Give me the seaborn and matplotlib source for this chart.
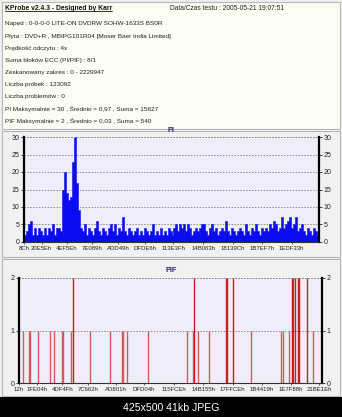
import numpy as np
import pandas as pd
import matplotlib
matplotlib.use("Agg")
import matplotlib.pyplot as plt
import seaborn as sns
from matplotlib.lines import Line2D
from matplotlib.patches import Rectangle

sns.set_theme(style="white")
plt.rcParams['font.family'] = ['Liberation Sans', 'DejaVu Sans']

# ---------------- data ----------------
scan_end = 2229947

info_title = "KProbe v2.4.3 - Designed by Karr"
info_date = "Data/Czas testu : 2005-05-21 19:07:51"
info_lines = [
    "Napęd : 0-0-0-0 LITE-ON DVDRW SOHW-1633S BS0R",
    "Płyta : DVD+R , MBIPG101R04 [Moser Baer India Limited]",
    "Prędkość odczytu : 4x",
    "Suma bloków ECC (PI/PIF) : 8/1",
    "Zeskanowany zakres : 0 - 2229947",
    "Liczba próbek : 123092",
    "Liczba problemów : 0",
    "PI Maksymalnie = 30 , Średnio = 0,97 , Suma = 15627",
    "PIF Maksymalnie = 2 , Średnio = 0,03 , Suma = 540",
]

pi_values = [
    2, 3, 5, 6, 2, 4, 2, 4, 3, 2, 4, 2, 4, 3, 5, 2, 4, 4, 3,
    15, 20, 14, 12, 13, 23, 30, 17, 9, 4,
    3, 5, 2, 4, 3, 2, 4, 6, 3, 2, 4, 3, 2, 4, 5, 3, 5, 2, 4, 3,
    7, 3, 2, 4, 3, 2, 3, 4, 2, 3, 2, 4, 3, 2, 3, 5, 2, 3, 2, 4,
    2, 3, 2, 4, 3, 2, 4, 5, 3, 5, 4, 5, 3, 5, 4, 2, 3, 4, 3, 4,
    5, 5, 3, 2, 4, 5, 3, 4, 2, 3, 4, 3, 6, 3, 2, 4, 3, 2, 3, 4,
    3, 2, 5, 3, 2, 4, 3, 5, 3, 2, 4, 3, 4, 3, 5, 4, 6, 5, 3, 4,
    7, 4, 5, 6, 7, 4, 5, 7, 3, 4, 5, 3, 2, 4, 3, 2, 4, 3, 2,
]
pi_yticks = [0, 5, 10, 15, 20, 25, 30]
pi_xtick_hex = ["8C", "20E5E", "4EF5E", "7E089", "ADD49", "DFDE6",
                "113E3F", "14B063", "18139C", "1B7EF7", "1EDF33"]

pif_lba = [27200, 73600, 78700, 137600, 228200, 257600, 314200, 326000,
           380500, 395000, 522500, 669700, 755600, 763000, 792600, 947000,
           1234000, 1278000, 1285700, 1319600, 1400600, 1523500, 1528500,
           1577300, 1705300, 1928200, 1943000, 1989300, 2007000, 2018800,
           2031300, 2055600, 2063000, 2121800, 2165900]
pif_values = [1, 1, 1, 1, 1, 1, 1, 1,
              1, 2, 1, 1, 1, 1, 1, 1,
              1, 1, 2, 1, 1, 2, 2,
              2, 1, 1, 1, 1, 2, 2,
              2, 2, 2, 2, 1]
pif_yticks = [0, 1, 2]
pif_xtick_hex = ["12", "1FE04", "4DF4F", "7C662", "AD801", "DFD04",
                 "115FCE", "14B155", "17FFCE", "1B4419", "1E7F88", "21BE1E"]

footer = "425x500 41kb JPEG"

# ---------------- layout helpers ----------------
W, H = 342, 417
fig = plt.figure(figsize=(W / 100, H / 100), dpi=100, facecolor='#efefef')


def px_rect(x0, y0, x1, y1):
    return [x0 / W, 1 - y1 / H, (x1 - x0) / W, (y1 - y0) / H]


def fx(x):
    return x / W


def fy(y):
    return 1 - y / H


def panel(rect, color):
    a = fig.add_axes(px_rect(*rect), zorder=-5)
    a.set_facecolor(color)
    a.set_xticks([])
    a.set_yticks([])
    for s in a.spines.values():
        s.set_color('#b8b8b8')
        s.set_linewidth(0.8)
    return a


# background panels
panel((2, 2, 340, 129), '#fcfcf4')
panel((2, 131, 340, 257), '#f1f1f1')
panel((2, 259, 340, 396), '#f1f1f1')

# ---------------- info box ----------------
fs_info = 4.6
t = fig.text(fx(5), fy(8), info_title, fontsize=4.9, weight='bold',
             va='center', ha='left', color='#111111')
fig.text(fx(170), fy(8), info_date, fontsize=4.75, va='center',
         ha='left', color='#222222')
for k, line in enumerate(info_lines):
    fig.text(fx(5), fy(24 + 12.1 * k), line, fontsize=fs_info, va='center',
             ha='left', color='#222222')
fig.canvas.draw()
bb = t.get_window_extent().transformed(fig.transFigure.inverted())
fig.add_artist(Line2D([bb.x0, bb.x1], [bb.y0 + 0.001, bb.y0 + 0.001],
                      transform=fig.transFigure, color='#111111', lw=0.6))

# ---------------- style helper ----------------
grid_kw = dict(color='#8c8c8c', linestyle=(0, (1.5, 1.5)), linewidth=0.7)


def style_axes(ax, yticks, xtick_hex):
    ax.set_facecolor('#eeeefa')
    ax.set_xlim(0, scan_end)
    ax.set_ylim(yticks[0], yticks[-1])
    ax.set_yticks(yticks)
    ax.set_yticklabels([str(v) for v in yticks])
    ax.set_xticks([int(h, 16) for h in xtick_hex])
    ax.set_xticklabels([h + "h" for h in xtick_hex])
    ax.tick_params(axis='y', left=True, right=True, labelleft=True,
                   labelright=True, length=2, width=0.6, pad=1.5,
                   labelsize=5.0, colors='#222222', direction='out')
    ax.tick_params(axis='x', bottom=True, length=1.5, width=0.5, pad=1.5,
                   labelsize=4.3, colors='#222222')
    ax.set_xlabel("")
    ax.set_ylabel("")
    ax.yaxis.grid(True, **grid_kw)
    ax.xaxis.grid(False)
    ax.set_axisbelow(True)
    ax.spines['top'].set_visible(False)
    for side in ('left', 'right'):
        ax.spines[side].set_color('#000000')
        ax.spines[side].set_linewidth(1.6)
    ax.spines['bottom'].set_color('#333333')
    ax.spines['bottom'].set_linewidth(0.8)
    ax.spines['bottom'].set_linestyle((0, (1, 1)))
    ax.axhline(yticks[-1], clip_on=False, **grid_kw)


# ---------------- PI ----------------
ax1 = fig.add_axes(px_rect(24, 137, 319, 242))
n_pi = len(pi_values)
bin_w = scan_end / n_pi
pi_df = pd.DataFrame({"lba": (np.arange(n_pi) + 0.5) * bin_w,
                      "pi": pi_values})
sns.histplot(data=pi_df, x="lba", weights="pi", bins=n_pi,
             binrange=(0, scan_end), ax=ax1,
             element='step', fill=True, color='#0c0cf0', alpha=1.0,
             linewidth=0.4)
style_axes(ax1, pi_yticks, pi_xtick_hex)
fig.text(fx(171), fy(130), "PI", fontsize=5.2, weight='bold',
         color='#202070', ha='center', va='center')

# ---------------- PIF ----------------
ax2 = fig.add_axes(px_rect(19, 278, 322, 383))
style_axes(ax2, pif_yticks, pif_xtick_hex)
cols = ['#c81e1e' if v == 2 else '#d45a5a' for v in pif_values]
ax2.vlines(pif_lba, 0, pif_values, colors=cols, linewidth=1.0, zorder=3)
fig.text(fx(171), fy(271), "PIF", fontsize=5.2, weight='bold',
         color='#202070', ha='center', va='center')

# ---------------- footer ----------------
fig.add_artist(Rectangle((0, 0), 1, fy(397), transform=fig.transFigure,
                         facecolor='#000000', edgecolor='none'))
fig.text(fx(171), fy(408), footer, fontsize=7.6, color='#ffffff',
         ha='center', va='center')

fig.savefig("out.png", dpi=100, facecolor=fig.get_facecolor())
